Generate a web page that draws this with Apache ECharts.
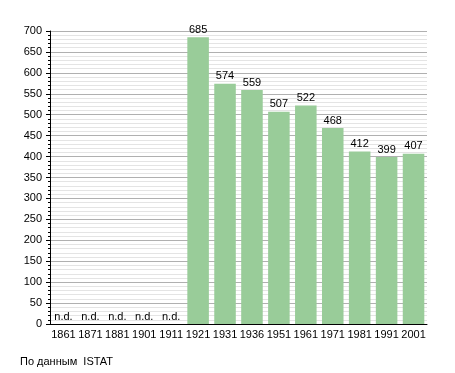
<!DOCTYPE html>
<html><head><meta charset="utf-8">
<script src="https://cdn.jsdelivr.net/npm/echarts@6/dist/echarts.min.js"></script>
<style>html,body{margin:0;padding:0;background:#fff}#c{width:455px;height:373px}</style>
</head><body><div id="c"></div>
<script>
const years = ['1861','1871','1881','1901','1911','1921','1931','1936','1951','1961','1971','1981','1991','2001'];
const population = [null,null,null,null,null,685,574,559,507,522,468,412,399,407];
const yTicks = {min:0, max:700, interval:50};
const source = 'По данным  ISTAT';

const chart = echarts.init(document.getElementById('c'), null, {renderer:'canvas'});
const font = 'Liberation Sans, Arial, sans-serif';
chart.setOption({
  animation:false,
  backgroundColor:'#fff',
  grid:{left:50,right:28,top:31,bottom:49},
  graphic:[{type:'text',left:20,top:356,style:{text:source,font:'11px '+font,fill:'#000'}}],
  xAxis:{type:'category',data:years,
    axisLine:{lineStyle:{color:'#000',width:1}},
    axisTick:{show:false},
    axisLabel:{color:'#000',fontSize:11,fontFamily:font,margin:5,interval:0}},
  yAxis:{type:'value',min:yTicks.min,max:yTicks.max,interval:yTicks.interval,
    axisLine:{show:true,lineStyle:{color:'#000'}},
    axisTick:{show:true,length:4,lineStyle:{color:'#000'}},
    minorTick:{show:true,splitNumber:5,length:2,lineStyle:{color:'#000'}},
    splitLine:{show:true,lineStyle:{color:'#b0b0b0',width:1}},
    minorSplitLine:{show:true,lineStyle:{color:'#e4e4e4',width:1}},
    axisLabel:{color:'#000',fontSize:11,fontFamily:font,margin:8}},
  series:[{type:'bar',barWidth:'80%',
    data:population.map(v=>v===null?0:v),
    itemStyle:{color:'#99cc99'},
    label:{show:true,position:'top',distance:2,color:'#000',fontSize:11,fontFamily:font,
      formatter:p=>population[p.dataIndex]===null?'n.d.':String(p.value)}}]
});
</script></body></html>
